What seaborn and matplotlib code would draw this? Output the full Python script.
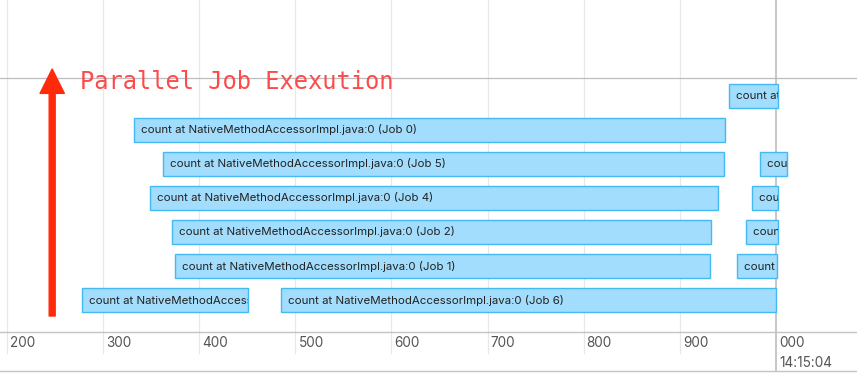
import matplotlib
matplotlib.use("Agg")
import matplotlib.pyplot as plt
import seaborn as sns
from matplotlib.transforms import TransformedBbox

# ---- data (ms after 14:15:03) -------------------------------------------
rows   = [0, 1, 2, 2, 3, 3, 4, 4, 5, 5, 6, 6]
starts = [951, 332, 362, 984, 349, 975, 372, 969, 375, 960, 278, 485]
ends   = [1002, 947, 946, 1012, 940, 1002, 933, 1002, 932, 1001, 451, 1000]
jobs   = [7, 0, 5, 11, 4, 10, 2, 9, 1, 8, 3, 6]
tick_ms     = [200, 300, 400, 500, 600, 700, 800, 900, 1000]
tick_labels = ["200", "300", "400", "500", "600", "700", "800", "900", "000"]
sec_label   = "14:15:04"
title = "Parallel Job Exexution"

sns.set_theme(style="white")
plt.rcParams["font.family"] = ["Inter", "DejaVu Sans"]

W, H = 857, 382
fig = plt.figure(figsize=(W / 100, H / 100), dpi=100)
ax = fig.add_axes([0, 50 / H, 1, 332 / H])
strip = fig.add_axes([0, 11 / H, 1, 39 / H], sharex=ax)

x0, x1 = 192.7, 1084.5
ax.set_xlim(x0, x1)
ax.set_ylim(6.94, -2.82)
ax.set_axis_off()

# vertical grid
for t in tick_ms:
    if t == 1000:
        ax.axvline(t, color="#c2c2c2", lw=1.3, zorder=0)
    else:
        ax.axvline(t, color="#e8e8e8", lw=0.9, zorder=0)
# group separator
ax.axhline(-0.53, color="#bdbdbd", lw=0.9, zorder=0)

# job bars
widths = [e - s for s, e in zip(starts, ends)]
bars = ax.barh(rows, widths, left=starts, height=0.7,
               color="#a2ddfd", edgecolor="#45b9f2", linewidth=1.0, zorder=2)
for rect, s, r, j in zip(bars.patches, starts, rows, jobs):
    t = ax.text(s + 7.3, r, f"count at NativeMethodAccessorImpl.java:0 (Job {j})",
                va="center", ha="left", fontsize=8.25, color="#222222", zorder=3)
    t.set_clip_path(None)
    t.set_clip_box(TransformedBbox(rect.get_bbox(), ax.transData))
    t.set_clip_on(True)

# arrow + annotation
ax.annotate("", xy=(247, -0.79), xytext=(247, 6.47),
            arrowprops=dict(color="#ff2a0a", width=4.3, headwidth=17.5,
                            headlength=17.5, shrink=0), zorder=4)
ax.text(275.7, -0.41, title, color="#ff4a4a", fontsize=17.1,
        family="DejaVu Sans Mono", va="center", ha="left", zorder=4)

# time axis strip
strip.set_ylim(0, 1)
strip.set_xticks([])
strip.set_yticks([])
for sp in ["left", "right"]:
    strip.spines[sp].set_visible(False)
for sp in ["top", "bottom"]:
    strip.spines[sp].set_color("#c4c4c4")
    strip.spines[sp].set_linewidth(1.0)
for t, lab in zip(tick_ms, tick_labels):
    if t == 1000:
        strip.axvline(t, color="#c2c2c2", lw=1.3)
    else:
        strip.axvline(t, ymin=0.46, ymax=1, color="#e8e8e8", lw=0.9)
    strip.text(t + 3.2, 0.72, lab, fontsize=9.8, color="#555555",
               va="center", ha="left")
strip.text(1000 + 3.2, 0.2, sec_label, fontsize=9.8, color="#555555",
           va="center", ha="left")

fig.savefig("out.png", dpi=100)
